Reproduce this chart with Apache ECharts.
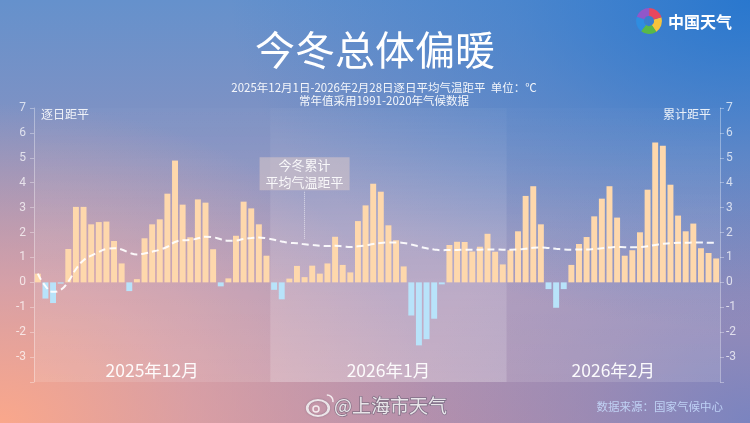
<!DOCTYPE html>
<html>
<head>
<meta charset="utf-8">
<script src="https://cdn.jsdelivr.net/npm/echarts@6/dist/echarts.min.js"></script>
<style>
html,body{margin:0;padding:0;width:750px;height:423px;overflow:hidden;}
#bg{position:absolute;left:0;top:0;width:750px;height:423px;
background:
 radial-gradient(ellipse 430px 320px at 0% 100%, rgba(252,168,138,0.97) 0%, rgba(242,168,158,0.6) 45%, rgba(230,170,175,0) 100%),
 radial-gradient(ellipse 520px 330px at 100% 0%, rgba(38,118,206,0.95) 0%, rgba(48,122,206,0.5) 45%, rgba(60,125,205,0) 100%),
 radial-gradient(ellipse 330px 260px at 100% 100%, rgba(112,130,195,0.85) 0%, rgba(120,130,190,0.4) 50%, rgba(125,130,190,0) 100%),
 linear-gradient(to bottom, #6591cc 0%, #8592c2 35%, #aa93b6 70%, #b590ac 100%);}
#chart{position:absolute;left:0;top:0;width:750px;height:423px;}
</style>
</head>
<body>
<div id="bg"></div>
<div id="chart"></div>
<script>
// ---- data ----
const months = ['2025年12月', '2026年1月', '2026年2月'];
const monthNums = [12, 1, 2];
const decValues = [0.35,-0.65,-0.83,-0.05,1.34,3.03,3.03,2.33,2.42,2.44,1.66,0.76,-0.35,0.13,1.77,2.33,2.53,3.56,4.89,3.12,1.81,3.33,3.2,1.33,-0.16,0.16,1.87,3.24,2.97,2.33,1.07];
const janValues = [-0.3,-0.68,0.15,0.66,0.21,0.67,0.35,0.76,1.83,0.7,0.4,2.46,3.09,3.96,3.64,2.29,1.69,0.64,-1.33,-2.53,-2.28,-1.46,-0.08,1.5,1.63,1.62,1.24,1.43,1.95,1.23,0.72];
const febValues = [1.29,2.05,3.47,3.86,2.33,-0.27,-1.02,-0.27,0.7,1.54,1.82,2.65,3.36,3.86,2.6,1.07,1.29,2.01,3.72,5.61,5.48,3.92,2.68,2.05,2.36,1.37,1.18,0.96];
const decCum = [0.35,-0.15,-0.38,-0.30,0.03,0.53,0.89,1.07,1.22,1.34,1.37,1.32,1.19,1.12,1.16,1.23,1.31,1.43,1.62,1.69,1.70,1.77,1.83,1.81,1.73,1.67,1.68,1.74,1.78,1.80,1.77];
const janCum = [1.71,1.64,1.59,1.57,1.53,1.50,1.47,1.46,1.47,1.45,1.42,1.45,1.48,1.54,1.58,1.60,1.60,1.58,1.52,1.44,1.37,1.32,1.29,1.30,1.30,1.31,1.31,1.31,1.32,1.32,1.31];
const febCum = [1.31,1.32,1.35,1.39,1.40,1.38,1.35,1.32,1.31,1.32,1.32,1.34,1.37,1.40,1.42,1.41,1.41,1.42,1.45,1.50,1.55,1.57,1.59,1.59,1.60,1.60,1.59,1.59];
const yTicks = [-3,-2,-1,0,1,2,3,4,5,6,7];
const annotationText = '今冬累计\n平均气温距平';

// ---- build ----
const monthValues = [decValues, janValues, febValues];
const daily = [].concat(decValues, janValues, febValues);
const cumulative = [].concat(decCum, janCum, febCum);
const categories = [];
const bands = [];
let start = 0;
monthValues.forEach((arr, m) => {
  arr.forEach((v, d) => categories.push(monthNums[m] + '-' + (d + 1)));
  bands.push([start, start + arr.length, months[m], m]);
  start += arr.length;
});
const bandAlpha = [0.12, 0.28, 0.13];

const chart = echarts.init(document.getElementById('chart'), null, {renderer: 'canvas'});
const axisCommon = {
  type: 'value', min: -4, max: 7, interval: 1,
  axisLine: {show: true, lineStyle: {color: 'rgba(255,255,255,0.35)', width: 1}},
  axisTick: {show: true, length: 4, lineStyle: {color: 'rgba(255,255,255,0.35)'}},
  splitLine: {show: false},
  axisLabel: {color: 'rgba(255,255,255,0.72)', fontSize: 12, fontFamily: 'Roboto, Noto Sans',
    formatter: v => (yTicks.indexOf(v) >= 0 ? String(v) : '')}
};
const cjk = '"Noto Sans CJK SC", "Noto Sans", sans-serif';

chart.setOption({
  backgroundColor: 'transparent',
  animation: false,
  grid: {left: 34, right: 30, top: 108, bottom: 41, containLabel: false},
  xAxis: [
    {type: 'category', data: categories, show: false, boundaryGap: true},
    {type: 'value', min: 0, max: daily.length, show: false}
  ],
  yAxis: [
    Object.assign({}, axisCommon, {position: 'left', axisLabel: Object.assign({}, axisCommon.axisLabel, {margin: 8})}),
    Object.assign({}, axisCommon, {position: 'right', axisLabel: Object.assign({}, axisCommon.axisLabel, {margin: 6})})
  ],
  series: [
    {
      type: 'custom', xAxisIndex: 1, yAxisIndex: 0, silent: true, z: 0,
      data: bands,
      renderItem: function (params, api) {
        const p0 = api.coord([api.value(0), 7]);
        const p1 = api.coord([api.value(1), -4]);
        const a = bandAlpha[api.value(3)];
        return {
          type: 'group',
          children: [
            {type: 'rect', shape: {x: p0[0], y: p0[1], width: p1[0] - p0[0], height: p1[1] - p0[1]},
             style: {fill: new echarts.graphic.LinearGradient(0, 0, 0, 1, [
               {offset: 0, color: 'rgba(255,255,255,' + (a * 0.15) + ')'},
               {offset: 0.45, color: 'rgba(255,255,255,' + (a * 0.7) + ')'},
               {offset: 1, color: 'rgba(255,255,255,' + a + ')'}])}},
            {type: 'text', x: (p0[0] + p1[0]) / 2, y: p1[1] - 12,
             style: {text: bands[params.dataIndex][2], fill: 'rgba(255,255,255,0.95)', font: '17.5px ' + cjk,
                     align: 'center', verticalAlign: 'middle'}}
          ]
        };
      }
    },
    {
      type: 'bar', xAxisIndex: 0, yAxisIndex: 0, data: daily, barCategoryGap: '22%', z: 2,
      itemStyle: {color: p => (p.value >= 0 ? '#fed8ac' : '#b8e3fa')}
    },
    {
      type: 'line', xAxisIndex: 0, yAxisIndex: 1, data: cumulative, smooth: true, showSymbol: false, z: 3,
      lineStyle: {color: 'rgba(255,255,255,0.92)', width: 2, type: [7, 4]},
      markLine: {
        silent: true, symbol: ['none', 'none'], label: {show: false},
        lineStyle: {type: 'dotted', color: 'rgba(255,255,255,0.6)', width: 1},
        data: [[{coord: [categories[35], 1.75]}, {coord: [categories[35], 3.68]}]]
      },
      markPoint: {
        silent: true,
        data: [{coord: [categories[35], 4.36], symbol: 'rect', symbolSize: [90, 33],
                itemStyle: {color: 'rgba(218,200,200,0.55)'},
                label: {show: true, formatter: annotationText, color: 'rgba(255,255,255,0.9)',
                        fontSize: 13, lineHeight: 17, fontFamily: cjk}}]
      }
    }
  ],
  graphic: [
    {type: 'text', x: 375, y: 50, style: {text: '今冬总体偏暖', fill: '#fff', font: '40px ' + cjk, align: 'center', verticalAlign: 'middle'}},
    {type: 'text', x: 384, y: 88, style: {text: '2025年12月1日-2026年2月28日逐日平均气温距平  单位：℃', fill: 'rgba(255,255,255,0.92)', font: '11.5px ' + cjk, align: 'center', verticalAlign: 'middle'}},
    {type: 'text', x: 384, y: 101, style: {text: '常年值采用1991-2020年气候数据', fill: 'rgba(255,255,255,0.92)', font: '11.5px ' + cjk, align: 'center', verticalAlign: 'middle'}},
    {type: 'text', x: 41, y: 114, style: {text: '逐日距平', fill: 'rgba(255,255,255,0.88)', font: '12px ' + cjk, align: 'left', verticalAlign: 'middle'}},
    {type: 'text', x: 711, y: 114, style: {text: '累计距平', fill: 'rgba(255,255,255,0.88)', font: '12px ' + cjk, align: 'right', verticalAlign: 'middle'}},
    // logo
    {type: 'group', x: 649, y: 21, rotation: 0.3, children: [
      {type: 'sector', shape: {cx: 0, cy: 0, r0: 5, r: 13, startAngle: 0, endAngle: 1.3}, style: {fill: '#f6c33b'}},
      {type: 'sector', shape: {cx: 0, cy: 0, r0: 5, r: 13, startAngle: 1.26, endAngle: 2.56}, style: {fill: '#59b948'}},
      {type: 'sector', shape: {cx: 0, cy: 0, r0: 5, r: 13, startAngle: 2.52, endAngle: 3.82}, style: {fill: '#2f8de0'}},
      {type: 'sector', shape: {cx: 0, cy: 0, r0: 5, r: 13, startAngle: 3.78, endAngle: 5.08}, style: {fill: '#9157c9'}},
      {type: 'sector', shape: {cx: 0, cy: 0, r0: 5, r: 13, startAngle: 5.04, endAngle: 6.3}, style: {fill: '#e8475e'}}
    ]},
    {type: 'text', x: 668, y: 22, style: {text: '中国天气', fill: '#fff', font: 'bold 16px ' + cjk, align: 'left', verticalAlign: 'middle'}},
    // weibo watermark
    {type: 'circle', x: 318, y: 408, scaleX: 1.35, shape: {cx: 0, cy: 0, r: 8}, style: {fill: 'none', stroke: 'rgba(255,255,255,0.8)', lineWidth: 2, shadowColor: 'rgba(60,60,80,0.5)', shadowBlur: 2}},
    {type: 'circle', x: 316, y: 409, shape: {cx: 0, cy: 0, r: 3}, style: {fill: 'none', stroke: 'rgba(255,255,255,0.8)', lineWidth: 1.5}},
    {type: 'arc', x: 327, y: 401, shape: {cx: 0, cy: 0, r: 6, startAngle: -1.6, endAngle: 0.2}, style: {stroke: 'rgba(255,255,255,0.8)', lineWidth: 1.5, fill: 'none'}},
    {type: 'text', x: 334, y: 406, style: {text: '@上海市天气', fill: 'rgba(255,255,255,0.82)', stroke: 'rgba(80,80,100,0.55)', lineWidth: 1.5, font: '19px ' + cjk, align: 'left', verticalAlign: 'middle'}},
    {type: 'text', x: 723, y: 407, style: {text: '数据来源：国家气候中心', fill: 'rgba(200,222,255,0.85)', font: '11.5px ' + cjk, align: 'right', verticalAlign: 'middle'}}
  ]
});
</script>
</body>
</html>
